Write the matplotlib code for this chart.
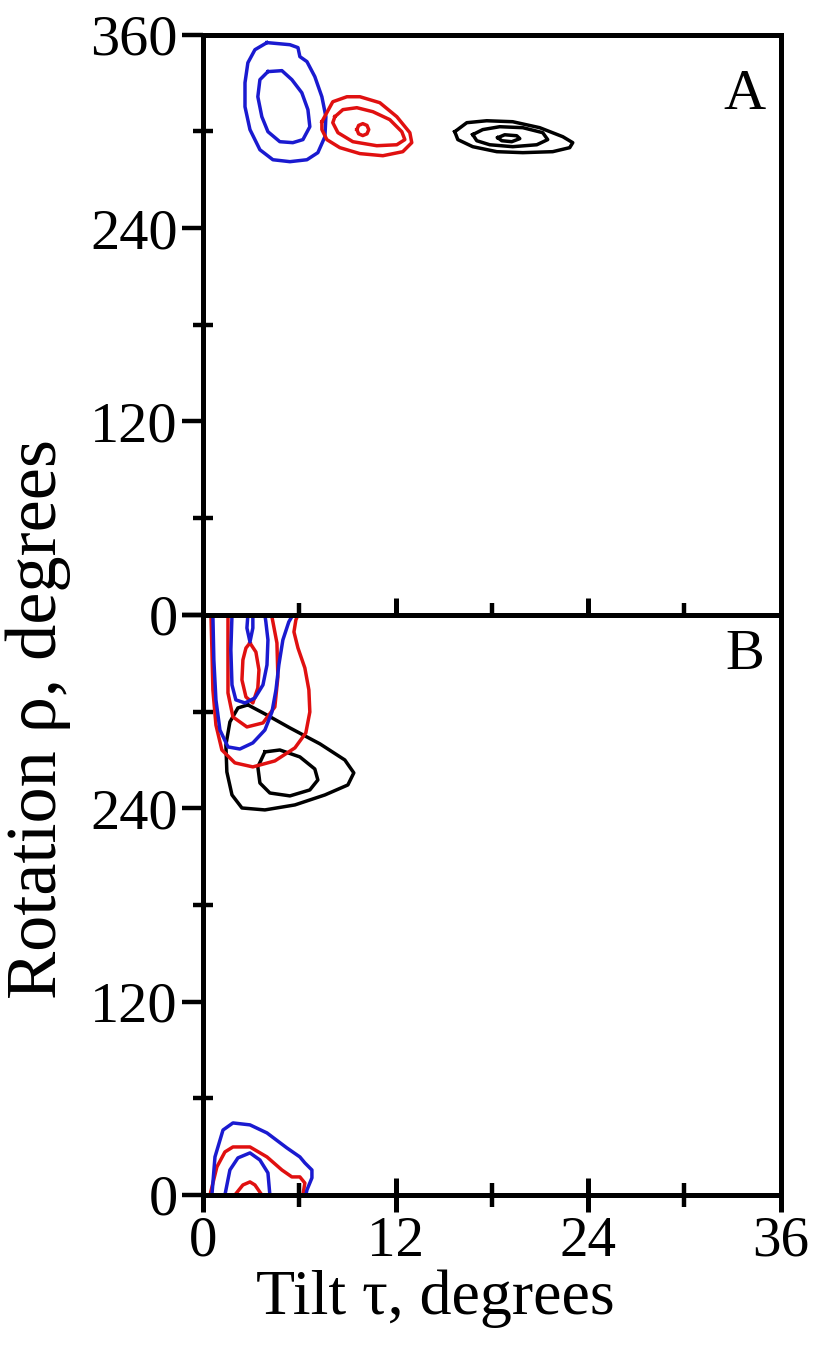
import matplotlib.pyplot as plt
from matplotlib.ticker import MultipleLocator

plt.rcParams['font.family'] = ['Liberation Serif', 'DejaVu Serif']

# ---- contour lines: (tilt, rotation) pairs ----
# panel A
a_blue_outer = [(3.99, 355.1), (5.42, 353.8), (5.92, 352.0), (6.04, 346.4), (6.48, 343.3),
                (6.97, 334.0), (7.41, 321.5), (7.66, 309.1), (7.60, 296.7), (7.16, 286.8),
                (6.48, 282.4), (5.42, 281.2), (4.36, 282.4), (3.55, 288.6), (2.93, 301.1),
                (2.62, 315.3), (2.62, 330.2), (2.80, 342.6), (3.24, 350.7), (3.99, 355.1)]
a_blue_inner = [(4.05, 337.1), (4.92, 337.7), (5.54, 332.1), (6.16, 324.0), (6.54, 313.5),
                (6.66, 302.9), (6.23, 294.9), (5.60, 293.0), (4.79, 293.6), (4.05, 299.8),
                (3.67, 309.1), (3.42, 321.5), (3.55, 332.1), (4.05, 337.1)]
a_red_outer = [(7.41, 306.0), (8.09, 318.4), (8.97, 321.5), (9.78, 321.5), (11.02, 317.8),
               (12.08, 309.1), (12.89, 299.2), (13.01, 293.0), (12.45, 287.4), (11.21, 284.9),
               (9.78, 286.2), (8.53, 289.9), (7.72, 294.9), (7.41, 301.1), (7.41, 306.0)]
a_red_mid = [(8.22, 309.1), (8.72, 313.5), (9.59, 314.7), (10.59, 312.2), (11.64, 307.3),
             (12.39, 299.8), (12.58, 294.9), (12.08, 291.7), (10.83, 291.1), (9.34, 293.6),
             (8.41, 299.2), (8.09, 305.4), (8.22, 309.1)]
a_red_inner = [(9.59, 301.1), (9.70, 303.7), (9.96, 304.8), (10.22, 303.7), (10.33, 301.1),
               (10.22, 298.5), (9.96, 297.4), (9.70, 298.5), (9.59, 301.1)]
a_black_outer = [(15.69, 299.8), (16.44, 305.4), (17.68, 306.6), (19.30, 306.0), (20.98, 302.3),
                 (22.42, 296.7), (23.04, 293.0), (22.85, 289.9), (21.79, 287.4), (19.93, 286.8),
                 (18.31, 287.4), (16.81, 290.5), (15.88, 294.9), (15.69, 299.8)]
a_black_mid = [(16.81, 298.0), (17.43, 301.1), (18.49, 302.9), (19.93, 302.3), (21.17, 299.2),
               (21.48, 294.9), (20.80, 291.7), (19.30, 290.5), (17.87, 291.7), (17.06, 294.2),
               (16.81, 298.0)]
a_black_inner = [(18.37, 296.1), (18.80, 297.9), (19.55, 297.3), (19.74, 295.5), (19.24, 293.6),
                 (18.62, 294.2), (18.37, 296.1)]

# panel B, near 360
b_red_outer = [(0.50, 360), (0.56, 338.3), (0.62, 313.5), (0.81, 291.7), (1.18, 276.2),
               (1.99, 268.2), (3.11, 265.7), (4.48, 269.4), (5.73, 277.5), (6.41, 286.8),
               (6.66, 299.8), (6.60, 313.5), (6.35, 327.1), (5.92, 339.5), (5.67, 349.5),
               (5.79, 356.9), (5.92, 360)]
b_red_mid = [(1.56, 360), (1.56, 342.6), (1.56, 311.6), (1.87, 296.7), (2.74, 290.5),
             (3.74, 293.0), (4.48, 302.9), (4.67, 321.5), (4.61, 342.6), (4.30, 358.8), (4.30, 360)]
b_red_inner = [(2.93, 342.6), (3.30, 337.0), (3.49, 325.9), (3.42, 314.7), (3.11, 305.4),
               (2.68, 309.1), (2.43, 319.7), (2.49, 332.1), (2.68, 339.5), (2.93, 342.6)]
b_blue_outer = [(0.62, 360), (0.68, 332.1), (0.81, 307.3), (1.06, 288.6), (1.56, 278.1),
                (2.30, 276.8), (3.11, 280.6), (3.86, 288.6), (4.30, 299.8), (4.55, 313.5),
                (4.73, 329.0), (4.98, 344.5), (5.35, 355.7), (5.60, 360)]
b_blue_inner = [(1.81, 360), (1.74, 338.3), (1.81, 316.6), (2.05, 307.3), (2.62, 305.4),
                (3.24, 308.5), (3.74, 316.6), (3.99, 329.0), (4.05, 344.5), (3.92, 355.7), (3.86, 360)]
b_blue_loop = [(2.80, 360), (2.74, 351.9), (2.93, 343.3), (3.11, 351.9), (3.11, 360)]
b_black_outer = [(2.80, 304.2), (2.18, 302.3), (1.68, 293.6), (1.43, 279.3), (1.49, 262.6),
                 (1.81, 248.3), (2.43, 240.2), (3.86, 239.0), (5.73, 242.1), (7.60, 248.3),
                 (9.03, 254.5), (9.40, 262.0), (8.84, 270.0), (7.29, 280.0), (5.42, 289.9),
                 (3.86, 298.6), (2.80, 304.2)]
b_black_inner = [(3.86, 275.0), (4.79, 276.2), (6.04, 271.9), (6.97, 264.4), (7.16, 257.6),
                 (6.66, 251.4), (5.42, 247.7), (4.17, 249.5), (3.55, 255.7), (3.42, 265.7),
                 (3.86, 275.0)]
# panel B, near 0
b_blue_outer_low = [(0.56, 0), (0.75, 23.6), (1.25, 40.3), (1.87, 44.7), (2.93, 43.5),
                    (3.99, 38.5), (5.23, 29.2), (6.04, 23.6), (6.35, 19.9), (6.79, 15.5),
                    (6.79, 10.6), (6.48, 3.1), (6.41, 0)]
b_red_outer_low = [(0.44, 0), (0.87, 17.4), (1.37, 26.7), (1.87, 29.8), (2.93, 29.8),
                   (3.99, 23.6), (4.92, 15.5), (5.54, 11.2), (6.04, 11.2), (6.35, 7.4), (6.23, 0)]
b_blue_inner_low = [(1.37, 0), (1.68, 15.5), (2.18, 23.0), (2.93, 26.1), (3.55, 21.7),
                    (4.05, 13.7), (4.17, 0)]
b_red_inner_low = [(1.99, 0), (2.49, 6.2), (2.93, 8.1), (3.24, 6.2), (3.67, 0)]

BLUE = '#1a1ad0'
RED = '#e01010'
BLACK = 'black'

panel_a = [(a_blue_outer, BLUE), (a_blue_inner, BLUE), (a_red_outer, RED), (a_red_mid, RED),
           (a_red_inner, RED), (a_black_outer, BLACK), (a_black_mid, BLACK), (a_black_inner, BLACK)]
panel_b = [(b_black_outer, BLACK), (b_black_inner, BLACK),
           (b_red_outer, RED), (b_red_mid, RED), (b_red_inner, RED),
           (b_blue_outer, BLUE), (b_blue_inner, BLUE), (b_blue_loop, BLUE),
           (b_red_outer_low, RED), (b_red_inner_low, RED),
           (b_blue_outer_low, BLUE), (b_blue_inner_low, BLUE)]

x_major = [0, 12, 24, 36]
y_major = [0, 120, 240, 360]

fig = plt.figure(figsize=(8.15, 13.51), dpi=100)
ax_a = fig.add_axes([0.249, 0.545, 0.709, 0.4293])
ax_b = fig.add_axes([0.249, 0.1155, 0.709, 0.4293])

for ax, lines in [(ax_a, panel_a), (ax_b, panel_b)]:
    for pts, col in lines:
        xs = [p[0] for p in pts]
        ys = [p[1] for p in pts]
        ax.plot(xs, ys, color=col, lw=2.5, solid_joinstyle='round')
    ax.set_xlim(0, 36)
    ax.set_ylim(0, 360)
    ax.set_xticks(x_major)
    ax.set_yticks(y_major)
    ax.xaxis.set_minor_locator(MultipleLocator(6))
    ax.yaxis.set_minor_locator(MultipleLocator(60))
    for s in ax.spines.values():
        s.set_linewidth(3.6)
    ax.tick_params(axis='x', which='major', direction='inout', length=24, width=3.6,
                   labelsize=41, pad=3)
    ax.tick_params(axis='x', which='minor', direction='inout', length=17, width=3.2)
    ax.tick_params(axis='y', which='major', direction='out', length=15, width=3.2,
                   labelsize=42, pad=3)
    ax.tick_params(axis='y', which='minor', direction='inout', length=14, width=3.2)

ax_a.tick_params(axis='x', labelbottom=False)
ax_b.set_yticklabels(['0', '120', '240', ''])

ax_a.text(33.75, 322.8, 'A', fontsize=42, ha='center', va='center')
ax_b.text(33.75, 335.2, 'B', fontsize=42, ha='center', va='center')

fig.text(0.534, 0.0385, 'Tilt τ, degrees', fontsize=46, ha='center', va='center')
fig.text(0.047, 0.468, 'Rotation ρ, degrees', fontsize=52, rotation=90,
         ha='center', va='center')

fig.savefig('out.png', dpi=100)
